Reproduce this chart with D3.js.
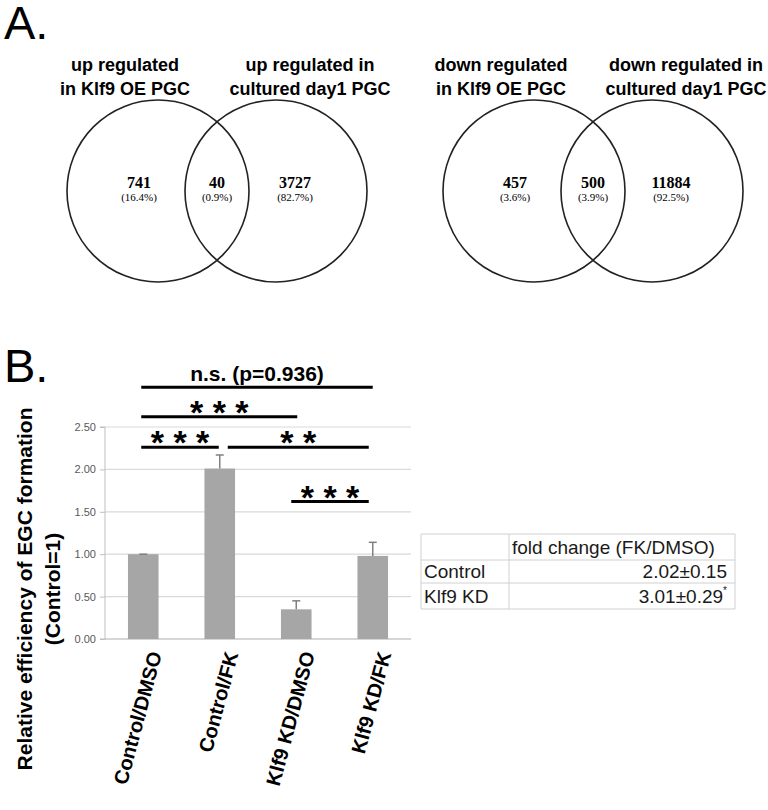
<!DOCTYPE html>
<html lang="en">
  <head>
    <meta charset="UTF-8" />
    <title>Klf9 PGC</title>
    <script src="https://cdn.jsdelivr.net/npm/d3@7"></script>
    <style>
      body {
        margin: 0;
        padding: 0;
        background: #fff;
      }
      text {
        font-family: 'Liberation Sans', Arial, sans-serif;
      }
    </style>
  </head>

  <body>
    <svg width="768" height="810"></svg>

    <script>
      // ---- A: venn data
      var upTitles = [
        ['up regulated', 'in Klf9 OE PGC'],
        ['up regulated in', 'cultured day1 PGC'],
      ]
      var downTitles = [
        ['down regulated', 'in Klf9 OE PGC'],
        ['down regulated in', 'cultured day1 PGC'],
      ]
      var upCounts = [741, 40, 3727]
      var upPercents = ['16.4%', '0.9%', '82.7%']
      var downCounts = [457, 500, 11884]
      var downPercents = ['3.6%', '3.9%', '92.5%']

      // ---- B: bar data
      var categories = ['Control/DMSO', 'Control/FK', 'Klf9 KD/DMSO', 'Klf9 KD/FK']
      var efficiency = [1.0, 2.01, 0.35, 0.98]
      var errors = [0.0, 0.16, 0.1, 0.16]
      var yTicks = [0, 0.5, 1.0, 1.5, 2.0, 2.5]

      // significance brackets
      var sigFrom = [0, 0, 0, 1, 2]
      var sigTo = [3, 2, 1, 3, 3]
      var sigLevel = [2.97, 2.62, 2.26, 2.26, 1.62]
      var sigLabel = ['n.s. (p=0.936)', '* * *', '* * *', '* *', '* * *']

      // table
      var tableHeader = 'fold change (FK/DMSO)'
      var tableRows = ['Control', 'Klf9 KD']
      var foldChange = ['2.02±0.15', '3.01±0.29']
      var foldMark = ['', '*']

      var svg = d3.select('svg')

      // ---------- A ----------
      svg.append('text').attr('x', 4).attr('y', 39)
        .attr('font-size', 47).text('A.')

      function venn(cx1, cx2, titles, counts, percents) {
        var g = svg.append('g')
        var r = 91
        var cy = 191
        g.selectAll('circle').data([cx1, cx2]).enter().append('circle')
          .attr('cx', (d) => d).attr('cy', cy).attr('r', r)
          .attr('fill', 'none').attr('stroke', '#222').attr('stroke-width', 1.6)

        var tx = [cx1 - 33, cx2 + 34]
        titles.forEach(function (t, i) {
          g.append('text')
            .attr('x', tx[i])
            .attr('y', 71)
            .attr('text-anchor', 'middle')
            .attr('font-size', 18).attr('font-weight', 'bold')
            .selectAll('tspan').data(t).enter().append('tspan')
            .attr('x', tx[i])
            .attr('dy', (d, j) => (j ? 24 : 0))
            .text((d) => d)
        })

        var mid = (cx1 + cx2) / 2
        var xs = [cx1 - 19, mid, cx2 + 19]
        g.selectAll('.num').data(counts).enter().append('text')
          .attr('x', (d, i) => xs[i]).attr('y', 188)
          .attr('text-anchor', 'middle')
          .style('font-family', "'Liberation Serif', 'DejaVu Serif', serif")
          .attr('font-size', 16).attr('font-weight', 'bold')
          .text((d) => d)
        g.selectAll('.pct').data(percents).enter().append('text')
          .attr('x', (d, i) => xs[i]).attr('y', 201)
          .attr('text-anchor', 'middle')
          .style('font-family', "'Liberation Serif', 'DejaVu Serif', serif")
          .attr('font-size', 11)
          .text((d) => '(' + d + ')')
      }
      venn(158, 276, upTitles, upCounts, upPercents)
      venn(534, 652, downTitles, downCounts, downPercents)

      // ---------- B ----------
      svg.append('text').attr('x', 4).attr('y', 382)
        .attr('font-size', 47).text('B.')

      var x = d3.scaleBand().domain(categories).range([105, 411]).paddingInner(0.6).paddingOuter(0.3)
      var y = d3.scaleLinear().domain([0, 2.5]).range([639, 427])

      // gridlines
      svg.append('g').selectAll('line').data(yTicks).enter().append('line')
        .attr('x1', 105).attr('x2', 411)
        .attr('y1', (d) => y(d)).attr('y2', (d) => y(d))
        .attr('stroke', '#d9d9d9').attr('stroke-width', 1.2)

      var yAxis = d3.axisLeft(y).tickValues(yTicks).tickFormat(d3.format('.2f')).tickSize(5).tickPadding(4)
      var ya = svg.append('g').attr('transform', 'translate(105,0)').call(yAxis)
      ya.select('.domain').attr('stroke', '#bfbfbf').attr('d', `M-5,${y(2.5)}H0V${y(0)}`)
      ya.selectAll('.tick line').attr('stroke', '#bfbfbf')
      ya.selectAll('.tick text').attr('fill', '#595959').attr('font-size', 11)
        .style('font-family', "'Liberation Sans', Arial, sans-serif")

      svg.append('line').attr('x1', 100).attr('x2', 411)
        .attr('y1', y(0)).attr('y2', y(0)).attr('stroke', '#bfbfbf').attr('stroke-width', 1.2)

      // bars
      svg.append('g').selectAll('rect').data(efficiency).enter().append('rect')
        .attr('x', (d, i) => x(categories[i]))
        .attr('y', (d) => y(d))
        .attr('width', x.bandwidth())
        .attr('height', (d) => y(0) - y(d))
        .attr('fill', '#a6a6a6')

      // error bars
      var eg = svg.append('g').attr('stroke', '#808080').attr('stroke-width', 1.5)
      efficiency.forEach(function (v, i) {
        var cx = x(categories[i]) + x.bandwidth() / 2
        eg.append('line').attr('x1', cx).attr('x2', cx)
          .attr('y1', y(v)).attr('y2', y(v + errors[i]))
        eg.append('line').attr('x1', cx - 4).attr('x2', cx + 4)
          .attr('y1', y(v + errors[i])).attr('y2', y(v + errors[i]))
      })

      // significance
      var inset = [[-2, 0], [-2, 1], [-2, -1], [8, -4], [-5, -4]]
      var sg = svg.append('g')
      sigLevel.forEach(function (lv, i) {
        var x1 = x(categories[sigFrom[i]]) + x.bandwidth() / 2 + inset[i][0]
        var x2 = x(categories[sigTo[i]]) + x.bandwidth() / 2 + inset[i][1]
        sg.append('line').attr('x1', x1).attr('x2', x2)
          .attr('y1', y(lv)).attr('y2', y(lv))
          .attr('stroke', '#000').attr('stroke-width', 3)
        var isStar = sigLabel[i].indexOf('*') === 0
        sg.append('text')
          .attr('x', (x1 + x2) / 2)
          .attr('y', y(lv) + (isStar ? 7 : -6))
          .attr('text-anchor', 'middle')
          .attr('font-size', isStar ? 34 : 21)
          .attr('font-weight', 'bold')
          .style('white-space', 'pre')
          .text(sigLabel[i])
      })

      // x labels
      svg.append('g').selectAll('text').data(categories).enter().append('text')
        .attr('transform', (d) => `translate(${x(d) + x.bandwidth() / 2 + 12},652) rotate(-75)`)
        .attr('text-anchor', 'end')
        .attr('dy', '0.35em')
        .attr('font-size', 20).attr('font-weight', 'bold')
        .text((d) => d)

      // y label
      var yl = svg.append('text')
        .attr('transform', 'translate(32,589) rotate(-90)')
        .attr('text-anchor', 'middle')
        .attr('font-size', 21).attr('font-weight', 'bold')
      yl.append('tspan').attr('x', 0).attr('y', 0).text('Relative efficiency of EGC formation')
      yl.append('tspan').attr('x', 0).attr('y', 28).text('(Control=1)')

      // ---------- table ----------
      var tx0 = 421, tx1 = 509, tx2 = 735
      var rowY = [534, 560, 583, 609]
      var tg = svg.append('g')
      rowY.forEach(function (ry) {
        tg.append('line').attr('x1', tx0).attr('x2', tx2).attr('y1', ry).attr('y2', ry)
          .attr('stroke', '#d0d0d0')
      })
      ;[tx0, tx1, tx2].forEach(function (cx) {
        tg.append('line').attr('x1', cx).attr('x2', cx).attr('y1', rowY[0]).attr('y2', rowY[3])
          .attr('stroke', '#d0d0d0')
      })
      tg.append('text').attr('x', tx1 + 3).attr('y', 554).attr('font-size', 19)
        .attr('fill', '#1a1a1a').text(tableHeader)
      tableRows.forEach(function (r, i) {
        tg.append('text').attr('x', tx0 + 3).attr('y', 578 + i * 25).attr('font-size', 19)
          .attr('fill', '#1a1a1a').text(r)
        var t = tg.append('text').attr('x', 727).attr('y', 578 + i * 25).attr('font-size', 19)
          .attr('text-anchor', 'end').attr('fill', '#1a1a1a')
        t.append('tspan').text(foldChange[i])
        if (foldMark[i]) {
          t.append('tspan').attr('dy', -9).attr('font-size', 10).text(foldMark[i])
        }
      })
    </script>
  </body>
</html>
